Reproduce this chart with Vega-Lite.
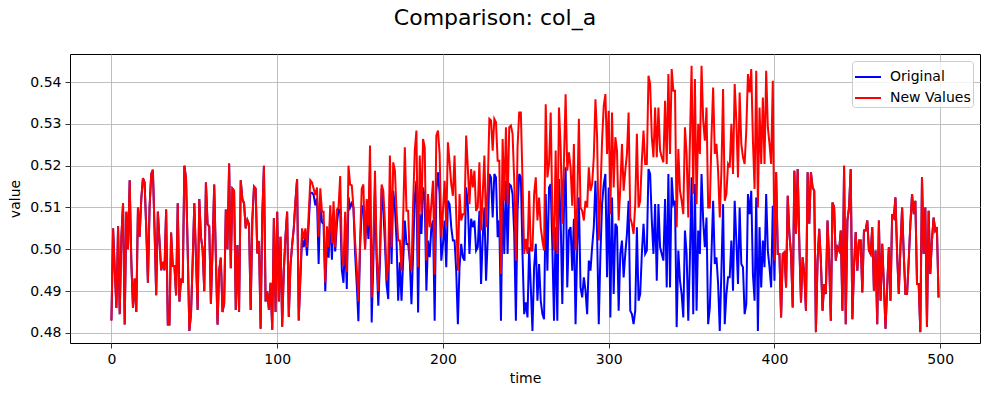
{
  "$schema": "https://vega.github.io/schema/vega-lite/v6.json",
  "autosize": "none",
  "width": 910,
  "height": 289,
  "padding": {"left": 70, "top": 54, "right": 9, "bottom": 53},
  "title": {"text": "Comparison: col_a", "fontSize": 22, "font": "DejaVu Sans", "fontWeight": "normal", "color": "black", "anchor": "middle", "dx": -30, "baseline": "alphabetic", "offset": 7},
  "config": {
    "font": "DejaVu Sans",
    "view": {"stroke": "black", "strokeWidth": 1},
    "axis": {"domain": false, "grid": true, "gridColor": "#b0b0b0", "gridWidth": 0.8, "tickColor": "black", "tickSize": 5, "tickWidth": 0.8, "labelFontSize": 14, "labelColor": "black", "labelPadding": 4, "titleFontSize": 14, "titleFontWeight": "normal", "titleColor": "black", "labelFont": "DejaVu Sans", "titleFont": "DejaVu Sans"},
    "legend": {"labelFontSize": 14, "labelFont": "DejaVu Sans", "labelColor": "black"}
  },
  "data": {"values": [
{"t":0,"o":0.483,"n":0.483},{"t":1,"o":0.505,"n":0.505},{"t":2,"o":0.495,"n":0.495},{"t":3,"o":0.486,"n":0.486},{"t":4,"o":0.5055,"n":0.5055},{"t":5,"o":0.4845,"n":0.4845},{"t":6,"o":0.503,"n":0.503},{"t":7,"o":0.511,"n":0.511},{"t":8,"o":0.482,"n":0.482},{"t":9,"o":0.509,"n":0.509},
{"t":10,"o":0.5,"n":0.5},{"t":11,"o":0.5165,"n":0.5165},{"t":12,"o":0.497,"n":0.497},{"t":13,"o":0.486,"n":0.486},{"t":14,"o":0.493,"n":0.493},{"t":15,"o":0.485,"n":0.485},{"t":16,"o":0.51,"n":0.51},{"t":17,"o":0.503,"n":0.503},{"t":18,"o":0.512,"n":0.512},{"t":19,"o":0.517,"n":0.517},
{"t":20,"o":0.516,"n":0.516},{"t":21,"o":0.505,"n":0.505},{"t":22,"o":0.492,"n":0.492},{"t":23,"o":0.51,"n":0.51},{"t":24,"o":0.518,"n":0.518},{"t":25,"o":0.519,"n":0.519},{"t":26,"o":0.505,"n":0.505},{"t":27,"o":0.489,"n":0.489},{"t":28,"o":0.509,"n":0.509},{"t":29,"o":0.502,"n":0.502},
{"t":30,"o":0.495,"n":0.495},{"t":31,"o":0.497,"n":0.497},{"t":32,"o":0.495,"n":0.495},{"t":33,"o":0.5095,"n":0.5095},{"t":34,"o":0.482,"n":0.482},{"t":35,"o":0.482,"n":0.482},{"t":36,"o":0.504,"n":0.504},{"t":37,"o":0.496,"n":0.496},{"t":38,"o":0.496,"n":0.496},{"t":39,"o":0.489,"n":0.489},
{"t":40,"o":0.511,"n":0.511},{"t":41,"o":0.4875,"n":0.4875},{"t":42,"o":0.493,"n":0.493},{"t":43,"o":0.492,"n":0.492},{"t":44,"o":0.52,"n":0.52},{"t":45,"o":0.517,"n":0.517},{"t":46,"o":0.5,"n":0.5},{"t":47,"o":0.4805,"n":0.4805},{"t":48,"o":0.4845,"n":0.4845},{"t":49,"o":0.497,"n":0.497},
{"t":50,"o":0.511,"n":0.511},{"t":51,"o":0.498,"n":0.498},{"t":52,"o":0.4855,"n":0.4855},{"t":53,"o":0.512,"n":0.512},{"t":54,"o":0.503,"n":0.503},{"t":55,"o":0.5,"n":0.5},{"t":56,"o":0.49,"n":0.49},{"t":57,"o":0.516,"n":0.516},{"t":58,"o":0.506,"n":0.506},{"t":59,"o":0.5055,"n":0.5055},
{"t":60,"o":0.487,"n":0.487},{"t":61,"o":0.5,"n":0.5},{"t":62,"o":0.5155,"n":0.5155},{"t":63,"o":0.498,"n":0.498},{"t":64,"o":0.482,"n":0.482},{"t":65,"o":0.495,"n":0.495},{"t":66,"o":0.498,"n":0.498},{"t":67,"o":0.485,"n":0.485},{"t":68,"o":0.487,"n":0.487},{"t":69,"o":0.5095,"n":0.5095},
{"t":70,"o":0.5,"n":0.5},{"t":71,"o":0.5205,"n":0.5205},{"t":72,"o":0.4955,"n":0.4955},{"t":73,"o":0.5145,"n":0.5145},{"t":74,"o":0.514,"n":0.514},{"t":75,"o":0.4855,"n":0.4855},{"t":76,"o":0.501,"n":0.501},{"t":77,"o":0.485,"n":0.485},{"t":78,"o":0.5165,"n":0.5165},{"t":79,"o":0.512,"n":0.512},
{"t":80,"o":0.511,"n":0.511},{"t":81,"o":0.505,"n":0.505},{"t":82,"o":0.507,"n":0.507},{"t":83,"o":0.506,"n":0.506},{"t":84,"o":0.4855,"n":0.4855},{"t":85,"o":0.507,"n":0.507},{"t":86,"o":0.515,"n":0.515},{"t":87,"o":0.5145,"n":0.5145},{"t":88,"o":0.499,"n":0.499},{"t":89,"o":0.502,"n":0.502},
{"t":90,"o":0.481,"n":0.481},{"t":91,"o":0.508,"n":0.508},{"t":92,"o":0.52,"n":0.52},{"t":93,"o":0.4875,"n":0.4875},{"t":94,"o":0.49,"n":0.49},{"t":95,"o":0.4855,"n":0.4855},{"t":96,"o":0.492,"n":0.492},{"t":97,"o":0.4808,"n":0.4808},{"t":98,"o":0.5075,"n":0.5075},{"t":99,"o":0.485,"n":0.485},
{"t":100,"o":0.509,"n":0.509},{"t":101,"o":0.4875,"n":0.4875},{"t":102,"o":0.503,"n":0.503},{"t":103,"o":0.4815,"n":0.4815},{"t":104,"o":0.495,"n":0.495},{"t":105,"o":0.503,"n":0.503},{"t":106,"o":0.509,"n":0.509},{"t":107,"o":0.4838,"n":0.4838},{"t":108,"o":0.496,"n":0.496},{"t":109,"o":0.501,"n":0.501},
{"t":110,"o":0.505,"n":0.505},{"t":111,"o":0.5115,"n":0.5115},{"t":112,"o":0.5168,"n":0.5168},{"t":113,"o":0.483,"n":0.483},{"t":114,"o":0.493,"n":0.494},{"t":115,"o":0.5025,"n":0.505},{"t":116,"o":0.5005,"n":0.5025},{"t":117,"o":0.5035,"n":0.505},{"t":118,"o":0.4985,"n":0.5005},{"t":119,"o":0.506,"n":0.5085},
{"t":120,"o":0.5135,"n":0.5165},{"t":121,"o":0.5135,"n":0.516},{"t":122,"o":0.513,"n":0.5145},{"t":123,"o":0.5105,"n":0.513},{"t":124,"o":0.5122,"n":0.5148},{"t":125,"o":0.4965,"n":0.503},{"t":126,"o":0.512,"n":0.5146},{"t":127,"o":0.5065,"n":0.509},{"t":128,"o":0.506,"n":0.509},{"t":129,"o":0.49,"n":0.492},
{"t":130,"o":0.502,"n":0.5055},{"t":131,"o":0.498,"n":0.5005},{"t":132,"o":0.508,"n":0.5105},{"t":133,"o":0.4975,"n":0.5015},{"t":134,"o":0.508,"n":0.5115},{"t":135,"o":0.4995,"n":0.5005},{"t":136,"o":0.506,"n":0.5095},{"t":137,"o":0.5095,"n":0.51},{"t":138,"o":0.5095,"n":0.5175},{"t":139,"o":0.495,"n":0.499},
{"t":140,"o":0.492,"n":0.496},{"t":141,"o":0.503,"n":0.509},{"t":142,"o":0.4905,"n":0.4945},{"t":143,"o":0.5125,"n":0.52},{"t":144,"o":0.51,"n":0.5155},{"t":145,"o":0.511,"n":0.5153},{"t":146,"o":0.51,"n":0.51},{"t":147,"o":0.499,"n":0.502},{"t":148,"o":0.4915,"n":0.4955},{"t":149,"o":0.4828,"n":0.4875},
{"t":150,"o":0.5005,"n":0.502},{"t":151,"o":0.5095,"n":0.5145},{"t":152,"o":0.5105,"n":0.5155},{"t":153,"o":0.5,"n":0.5},{"t":154,"o":0.5095,"n":0.512},{"t":155,"o":0.5025,"n":0.5055},{"t":156,"o":0.5195,"n":0.5248},{"t":157,"o":0.4825,"n":0.4885},{"t":158,"o":0.497,"n":0.502},{"t":159,"o":0.5148,"n":0.5188},
{"t":160,"o":0.4975,"n":0.499},{"t":161,"o":0.4865,"n":0.49},{"t":162,"o":0.497,"n":0.5},{"t":163,"o":0.5145,"n":0.5155},{"t":164,"o":0.5095,"n":0.514},{"t":165,"o":0.5015,"n":0.5065},{"t":166,"o":0.4915,"n":0.4925},{"t":167,"o":0.4881,"n":0.4965},{"t":168,"o":0.5132,"n":0.5224},{"t":169,"o":0.4965,"n":0.5005},
{"t":170,"o":0.514,"n":0.5208},{"t":171,"o":0.51,"n":0.5188},{"t":172,"o":0.5021,"n":0.5092},{"t":173,"o":0.4877,"n":0.5021},{"t":174,"o":0.4969,"n":0.5021},{"t":175,"o":0.4877,"n":0.4949},{"t":176,"o":0.4973,"n":0.5076},{"t":177,"o":0.5069,"n":0.5244},{"t":178,"o":0.5013,"n":0.5092},{"t":179,"o":0.5013,"n":0.5092},
{"t":180,"o":0.4973,"n":0.4973},{"t":181,"o":0.4869,"n":0.4949},{"t":182,"o":0.4989,"n":0.5108},{"t":183,"o":0.5124,"n":0.5236},{"t":184,"o":0.5164,"n":0.5284},{"t":185,"o":0.4849,"n":0.4957},{"t":186,"o":0.5084,"n":0.5224},{"t":187,"o":0.5037,"n":0.5084},{"t":188,"o":0.5148,"n":0.5264},{"t":189,"o":0.5124,"n":0.5244},
{"t":190,"o":0.4901,"n":0.4973},{"t":191,"o":0.5021,"n":0.5132},{"t":192,"o":0.4981,"n":0.5053},{"t":193,"o":0.5053,"n":0.5108},{"t":194,"o":0.5069,"n":0.5164},{"t":195,"o":0.4829,"n":0.494},{"t":196,"o":0.514,"n":0.5272},{"t":197,"o":0.5184,"n":0.5284},{"t":198,"o":0.5132,"n":0.5228},{"t":199,"o":0.4973,"n":0.5029},
{"t":200,"o":0.5013,"n":0.5092},{"t":201,"o":0.5069,"n":0.5164},{"t":202,"o":0.4957,"n":0.5055},{"t":203,"o":0.5116,"n":0.5256},{"t":204,"o":0.5108,"n":0.5208},{"t":205,"o":0.5053,"n":0.5156},{"t":206,"o":0.5021,"n":0.5128},{"t":207,"o":0.5021,"n":0.5224},{"t":208,"o":0.4949,"n":0.5084},{"t":209,"o":0.4821,"n":0.4949},
{"t":210,"o":0.4957,"n":0.5132},{"t":211,"o":0.5013,"n":0.5069},{"t":212,"o":0.4981,"n":0.5084},{"t":213,"o":0.4973,"n":0.5084},{"t":214,"o":0.5148,"n":0.5272},{"t":215,"o":0.5108,"n":0.5196},{"t":216,"o":0.4989,"n":0.5108},{"t":217,"o":0.5073,"n":0.5192},{"t":218,"o":0.5053,"n":0.5148},{"t":219,"o":0.5069,"n":0.5188},
{"t":220,"o":0.4997,"n":0.5092},{"t":221,"o":0.5005,"n":0.51},{"t":222,"o":0.5092,"n":0.5208},{"t":223,"o":0.4917,"n":0.5045},{"t":224,"o":0.5029,"n":0.5132},{"t":225,"o":0.51,"n":0.5224},{"t":226,"o":0.4925,"n":0.5053},{"t":227,"o":0.5021,"n":0.5148},{"t":228,"o":0.518,"n":0.5312},{"t":229,"o":0.5172,"n":0.5308},
{"t":230,"o":0.5076,"n":0.5236},{"t":231,"o":0.518,"n":0.5312},{"t":232,"o":0.5172,"n":0.5304},{"t":233,"o":0.5029,"n":0.5212},{"t":234,"o":0.5069,"n":0.5212},{"t":235,"o":0.4829,"n":0.4941},{"t":236,"o":0.514,"n":0.5264},{"t":237,"o":0.4989,"n":0.5116},{"t":238,"o":0.5164,"n":0.5292},{"t":239,"o":0.4989,"n":0.5108},
{"t":240,"o":0.5156,"n":0.5292},{"t":241,"o":0.5152,"n":0.5296},{"t":242,"o":0.5132,"n":0.5276},{"t":243,"o":0.5037,"n":0.5164},{"t":244,"o":0.4829,"n":0.4973},{"t":245,"o":0.5092,"n":0.5244},{"t":246,"o":0.518,"n":0.5327},{"t":247,"o":0.5172,"n":0.5327},{"t":248,"o":0.4989,"n":0.5164},{"t":249,"o":0.4845,"n":0.4989},
{"t":250,"o":0.4873,"n":0.5025},{"t":251,"o":0.4837,"n":0.4989},{"t":252,"o":0.5005,"n":0.514},{"t":253,"o":0.4909,"n":0.4997},{"t":254,"o":0.4805,"n":0.4997},{"t":255,"o":0.4957,"n":0.5132},{"t":256,"o":0.5013,"n":0.5172},{"t":257,"o":0.4877,"n":0.5069},{"t":258,"o":0.4965,"n":0.5124},{"t":259,"o":0.4877,"n":0.5053},
{"t":260,"o":0.4845,"n":0.5021},{"t":261,"o":0.4833,"n":0.4997},{"t":262,"o":0.5132,"n":0.5347},{"t":263,"o":0.4949,"n":0.5172},{"t":264,"o":0.5148,"n":0.5204},{"t":265,"o":0.5156,"n":0.5327},{"t":266,"o":0.5005,"n":0.5084},{"t":267,"o":0.4829,"n":0.4997},{"t":268,"o":0.5053,"n":0.5236},{"t":269,"o":0.4829,"n":0.4989},
{"t":270,"o":0.5168,"n":0.5339},{"t":271,"o":0.5076,"n":0.5244},{"t":272,"o":0.4869,"n":0.5061},{"t":273,"o":0.5092,"n":0.5212},{"t":274,"o":0.5196,"n":0.5371},{"t":275,"o":0.4909,"n":0.5188},{"t":276,"o":0.5045,"n":0.5232},{"t":277,"o":0.5053,"n":0.5196},{"t":278,"o":0.4949,"n":0.5104},{"t":279,"o":0.5073,"n":0.5252},
{"t":280,"o":0.4821,"n":0.4997},{"t":281,"o":0.5005,"n":0.5108},{"t":282,"o":0.5124,"n":0.5312},{"t":283,"o":0.4909,"n":0.51},{"t":284,"o":0.4885,"n":0.5092},{"t":285,"o":0.4933,"n":0.5069},{"t":286,"o":0.4901,"n":0.5116},{"t":287,"o":0.4845,"n":0.51},{"t":288,"o":0.4973,"n":0.5196},{"t":289,"o":0.4949,"n":0.514},
{"t":290,"o":0.5005,"n":0.5156},{"t":291,"o":0.5053,"n":0.522},{"t":292,"o":0.5164,"n":0.5359},{"t":293,"o":0.5037,"n":0.5268},{"t":294,"o":0.4821,"n":0.5021},{"t":295,"o":0.4989,"n":0.5132},{"t":296,"o":0.5108,"n":0.526},{"t":297,"o":0.5156,"n":0.5343},{"t":298,"o":0.518,"n":0.5371},{"t":299,"o":0.4933,"n":0.5228},
{"t":300,"o":0.5148,"n":0.5331},{"t":301,"o":0.4837,"n":0.5084},{"t":302,"o":0.5124,"n":0.5327},{"t":303,"o":0.4893,"n":0.5148},{"t":304,"o":0.5061,"n":0.5268},{"t":305,"o":0.5053,"n":0.5236},{"t":306,"o":0.4853,"n":0.5069},{"t":307,"o":0.4989,"n":0.5148},{"t":308,"o":0.5021,"n":0.5252},{"t":309,"o":0.4933,"n":0.514},
{"t":310,"o":0.4989,"n":0.5188},{"t":311,"o":0.5037,"n":0.5228},{"t":312,"o":0.5116,"n":0.5327},{"t":313,"o":0.4853,"n":0.5076},{"t":314,"o":0.4845,"n":0.5061},{"t":315,"o":0.4821,"n":0.5037},{"t":316,"o":0.4853,"n":0.5108},{"t":317,"o":0.5053,"n":0.5276},{"t":318,"o":0.4877,"n":0.51},{"t":319,"o":0.4893,"n":0.5116},
{"t":320,"o":0.499,"n":0.5212},{"t":321,"o":0.5061,"n":0.5284},{"t":322,"o":0.4989,"n":0.5204},{"t":323,"o":0.4997,"n":0.5204},{"t":324,"o":0.5192,"n":0.5415},{"t":325,"o":0.518,"n":0.5395},{"t":326,"o":0.5069,"n":0.5268},{"t":327,"o":0.4989,"n":0.522},{"t":328,"o":0.5108,"n":0.5339},{"t":329,"o":0.4925,"n":0.522},
{"t":330,"o":0.5108,"n":0.5339},{"t":331,"o":0.5005,"n":0.5236},{"t":332,"o":0.4989,"n":0.522},{"t":333,"o":0.4973,"n":0.5208},{"t":334,"o":0.512,"n":0.5355},{"t":335,"o":0.4909,"n":0.5204},{"t":336,"o":0.518,"n":0.5419},{"t":337,"o":0.4909,"n":0.5228},{"t":338,"o":0.5172,"n":0.5431},{"t":339,"o":0.5108,"n":0.5379},
{"t":340,"o":0.5116,"n":0.5379},{"t":341,"o":0.4814,"n":0.5053},{"t":342,"o":0.4997,"n":0.524},{"t":343,"o":0.4925,"n":0.514},{"t":344,"o":0.4893,"n":0.5116},{"t":345,"o":0.4837,"n":0.5084},{"t":346,"o":0.5045,"n":0.5292},{"t":347,"o":0.4989,"n":0.5228},{"t":348,"o":0.4829,"n":0.5076},{"t":349,"o":0.4981,"n":0.526},
{"t":350,"o":0.5172,"n":0.5439},{"t":351,"o":0.4845,"n":0.5132},{"t":352,"o":0.5156,"n":0.5407},{"t":353,"o":0.4853,"n":0.5108},{"t":354,"o":0.5045,"n":0.53},{"t":355,"o":0.4989,"n":0.5228},{"t":356,"o":0.518,"n":0.5439},{"t":357,"o":0.5069,"n":0.5308},{"t":358,"o":0.5005,"n":0.526},{"t":359,"o":0.5076,"n":0.5339},
{"t":360,"o":0.4821,"n":0.51},{"t":361,"o":0.4861,"n":0.51},{"t":362,"o":0.4989,"n":0.5268},{"t":363,"o":0.5116,"n":0.5387},{"t":364,"o":0.4965,"n":0.5228},{"t":365,"o":0.4981,"n":0.5252},{"t":366,"o":0.4917,"n":0.5188},{"t":367,"o":0.4805,"n":0.5076},{"t":368,"o":0.4949,"n":0.5188},{"t":369,"o":0.5108,"n":0.5383},
{"t":370,"o":0.4821,"n":0.5116},{"t":371,"o":0.4893,"n":0.5132},{"t":372,"o":0.4933,"n":0.5204},{"t":373,"o":0.4933,"n":0.5196},{"t":374,"o":0.5021,"n":0.53},{"t":375,"o":0.4901,"n":0.518},{"t":376,"o":0.5116,"n":0.5395},{"t":377,"o":0.5021,"n":0.5308},{"t":378,"o":0.4917,"n":0.5172},{"t":379,"o":0.51,"n":0.5375},
{"t":380,"o":0.4965,"n":0.5252},{"t":381,"o":0.4957,"n":0.522},{"t":382,"o":0.4845,"n":0.5204},{"t":383,"o":0.4869,"n":0.5284},{"t":384,"o":0.5132,"n":0.5419},{"t":385,"o":0.5084,"n":0.5375},{"t":386,"o":0.514,"n":0.5431},{"t":387,"o":0.4941,"n":0.526},{"t":388,"o":0.4877,"n":0.5144},{"t":389,"o":0.5124,"n":0.5427},
{"t":390,"o":0.4805,"n":0.51},{"t":391,"o":0.5053,"n":0.5339},{"t":392,"o":0.4909,"n":0.5204},{"t":393,"o":0.5021,"n":0.5363},{"t":394,"o":0.4957,"n":0.5204},{"t":395,"o":0.5132,"n":0.5427},{"t":396,"o":0.4997,"n":0.5292},{"t":397,"o":0.4957,"n":0.5252},{"t":398,"o":0.4909,"n":0.5204},{"t":399,"o":0.5104,"n":0.5403},
{"t":400,"o":0.4925,"n":0.4973},{"t":401,"o":0.5184,"n":0.5184},{"t":402,"o":0.4989,"n":0.4989},{"t":403,"o":0.4989,"n":0.4989},{"t":404,"o":0.4837,"n":0.4837},{"t":405,"o":0.4989,"n":0.4989},{"t":406,"o":0.4993,"n":0.4993},{"t":407,"o":0.4909,"n":0.4909},{"t":408,"o":0.5128,"n":0.5128},{"t":409,"o":0.5037,"n":0.5037},
{"t":410,"o":0.4989,"n":0.4989},{"t":411,"o":0.4861,"n":0.4861},{"t":412,"o":0.5188,"n":0.5188},{"t":413,"o":0.5037,"n":0.5037},{"t":414,"o":0.5192,"n":0.5192},{"t":415,"o":0.5013,"n":0.5013},{"t":416,"o":0.4873,"n":0.4873},{"t":417,"o":0.4981,"n":0.4981},{"t":418,"o":0.4941,"n":0.4941},{"t":419,"o":0.4853,"n":0.4853},
{"t":420,"o":0.5184,"n":0.5184},{"t":421,"o":0.5061,"n":0.5061},{"t":422,"o":0.5184,"n":0.5184},{"t":423,"o":0.5148,"n":0.5148},{"t":424,"o":0.514,"n":0.514},{"t":425,"o":0.4802,"n":0.4802},{"t":426,"o":0.4973,"n":0.4973},{"t":427,"o":0.5049,"n":0.5049},{"t":428,"o":0.4973,"n":0.4973},{"t":429,"o":0.4853,"n":0.4853},
{"t":430,"o":0.4917,"n":0.4917},{"t":431,"o":0.4893,"n":0.4893},{"t":432,"o":0.5069,"n":0.5069},{"t":433,"o":0.4973,"n":0.4973},{"t":434,"o":0.4829,"n":0.4829},{"t":435,"o":0.5112,"n":0.5112},{"t":436,"o":0.51,"n":0.51},{"t":437,"o":0.4973,"n":0.4973},{"t":438,"o":0.5005,"n":0.5005},{"t":439,"o":0.4997,"n":0.4997},
{"t":440,"o":0.5045,"n":0.5045},{"t":441,"o":0.4853,"n":0.4853},{"t":442,"o":0.52,"n":0.52},{"t":443,"o":0.4821,"n":0.4821},{"t":444,"o":0.5069,"n":0.5069},{"t":445,"o":0.51,"n":0.51},{"t":446,"o":0.5192,"n":0.5192},{"t":447,"o":0.4833,"n":0.4833},{"t":448,"o":0.4957,"n":0.4957},{"t":449,"o":0.5041,"n":0.5041},
{"t":450,"o":0.4949,"n":0.4949},{"t":451,"o":0.5021,"n":0.5021},{"t":452,"o":0.5021,"n":0.5021},{"t":453,"o":0.4897,"n":0.4897},{"t":454,"o":0.5045,"n":0.5045},{"t":455,"o":0.5045,"n":0.5045},{"t":456,"o":0.5069,"n":0.5069},{"t":457,"o":0.4997,"n":0.4997},{"t":458,"o":0.4989,"n":0.4989},{"t":459,"o":0.5053,"n":0.5053},
{"t":460,"o":0.4901,"n":0.4901},{"t":461,"o":0.4997,"n":0.4997},{"t":462,"o":0.4821,"n":0.4821},{"t":463,"o":0.5069,"n":0.5069},{"t":464,"o":0.4877,"n":0.4877},{"t":465,"o":0.5013,"n":0.5013},{"t":466,"o":0.4917,"n":0.4917},{"t":467,"o":0.481,"n":0.481},{"t":468,"o":0.4909,"n":0.4909},{"t":469,"o":0.5005,"n":0.5005},
{"t":470,"o":0.4877,"n":0.4877},{"t":471,"o":0.5084,"n":0.5084},{"t":472,"o":0.5076,"n":0.5076},{"t":473,"o":0.5124,"n":0.5124},{"t":474,"o":0.4989,"n":0.4989},{"t":475,"o":0.4893,"n":0.4893},{"t":476,"o":0.5005,"n":0.5005},{"t":477,"o":0.51,"n":0.51},{"t":478,"o":0.4989,"n":0.4989},{"t":479,"o":0.4893,"n":0.4893},
{"t":480,"o":0.4893,"n":0.4893},{"t":481,"o":0.4973,"n":0.4973},{"t":482,"o":0.5061,"n":0.5061},{"t":483,"o":0.5132,"n":0.5132},{"t":484,"o":0.5084,"n":0.5084},{"t":485,"o":0.5116,"n":0.5116},{"t":486,"o":0.4917,"n":0.4917},{"t":487,"o":0.4917,"n":0.4917},{"t":488,"o":0.4802,"n":0.4802},{"t":489,"o":0.5172,"n":0.5172},
{"t":490,"o":0.4989,"n":0.4989},{"t":491,"o":0.51,"n":0.51},{"t":492,"o":0.4814,"n":0.4814},{"t":493,"o":0.5092,"n":0.5092},{"t":494,"o":0.4941,"n":0.4941},{"t":495,"o":0.5021,"n":0.5021},{"t":496,"o":0.5076,"n":0.5076},{"t":497,"o":0.5045,"n":0.5045},{"t":498,"o":0.5053,"n":0.5053},{"t":499,"o":0.4885,"n":0.4885}
  ]},
  "encoding": {
    "x": {"field": "t", "type": "quantitative", "title": "time", "scale": {"domain": [-25, 524], "nice": false, "zero": false}, "axis": {"values": [0, 100, 200, 300, 400, 500], "titlePadding": 5}},
    "color": {"scale": {"domain": ["Original", "New Values"], "range": ["#0000ff", "#ff0000"]}, "legend": {"title": null, "orient": "top-right", "offset": 7, "fillColor": "rgba(255,255,255,0.8)", "strokeColor": "#cccccc", "cornerRadius": 3, "padding": 2, "symbolType": "stroke", "symbolSize": 676, "symbolStrokeWidth": 2, "rowPadding": -3, "labelOffset": 8}}
  },
  "layer": [
    {"mark": {"type": "line", "strokeWidth": 2, "clip": true}, "encoding": {"y": {"field": "o", "type": "quantitative", "title": "value", "scale": {"domain": [0.4776, 0.5467], "nice": false, "zero": false}, "axis": {"values": [0.48, 0.49, 0.5, 0.51, 0.52, 0.53, 0.54], "format": ".2f", "titlePadding": 7}}, "color": {"datum": "Original"}}},
    {"mark": {"type": "line", "strokeWidth": 2, "clip": true}, "encoding": {"y": {"field": "n", "type": "quantitative"}, "color": {"datum": "New Values"}}}
  ]
}
